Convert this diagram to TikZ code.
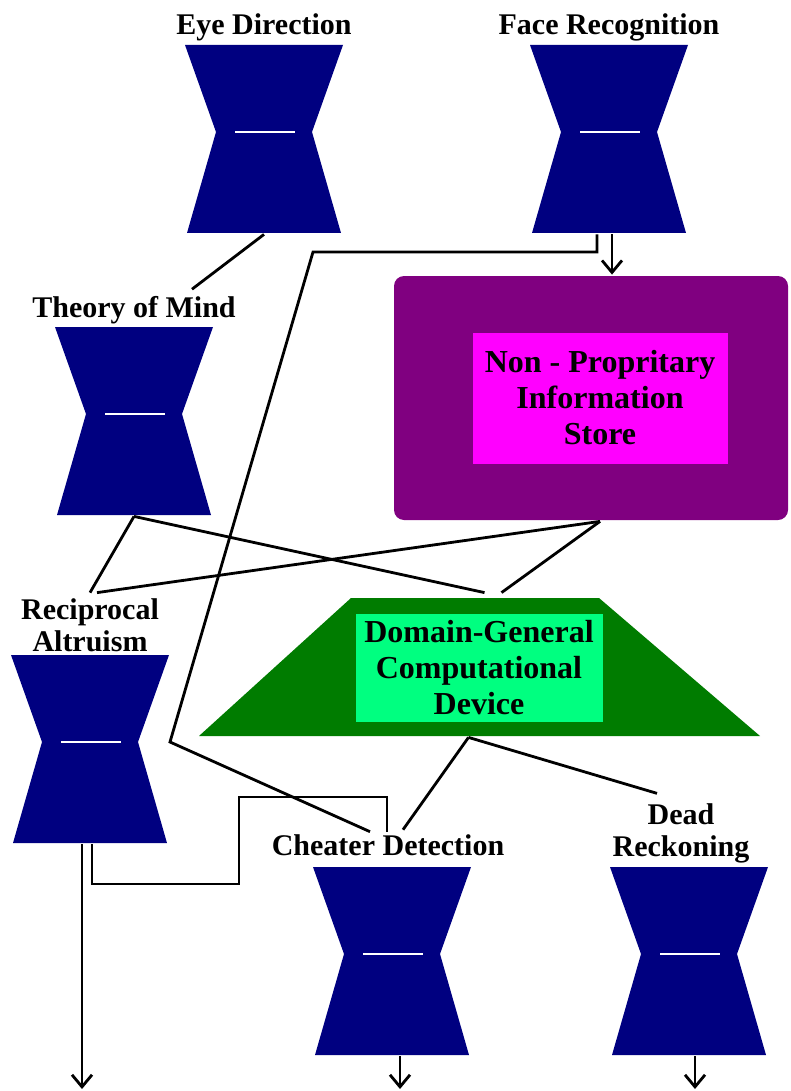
\documentclass[tikz,border=0pt]{standalone}
\usepackage{fontspec}
\setmainfont{Liberation Serif}
\usetikzlibrary{arrows.meta,positioning}

\definecolor{modblue}{RGB}{0,0,128}
\definecolor{storepurple}{RGB}{128,0,128}
\definecolor{storepink}{RGB}{255,0,255}
\definecolor{devgreen}{RGB}{0,124,0}
\definecolor{devlight}{RGB}{0,255,128}

\newcommand\bbx{path picture bounding box}

\begin{document}
\begin{tikzpicture}
  [x=1pt,y=-1pt,line width=2.8pt,>={Straight Barb[length=12pt,width=20pt]},
  module/.style={minimum width=158,minimum height=188,inner sep=0pt,
    path picture={
      \fill[modblue] (\bbx.north west) -- (\bbx.north east)
        -- ([shift={(-31,87)}]\bbx.north east) -- ([xshift=-2pt]\bbx.south east)
        -- ([xshift=2pt]\bbx.south west) -- ([shift={(31,87)}]\bbx.north west) -- cycle;
      \draw[white,line width=2.5pt] ([shift={(-29,87)}]\bbx.north) -- ([shift={(31,87)}]\bbx.north);}},
  lbl/.style={font=\bfseries\fontsize{30}{32}\selectfont,inner sep=0pt,align=center},
  boxtext/.style={font=\bfseries\fontsize{32}{36}\selectfont,inner sep=0pt,align=center}]
  \useasboundingbox (0,0) rectangle (791,1091);

  % modules
  \node[module] (eye) at (264,139) {};
  \node[module] (face) at (609,139) {};
  \node[module] (tom) at (134,421) {};
  \node[module] (recip) at (90,749) {};
  \node[module] (cheat) at (392,961) {};
  \node[module] (dead) at (689,961) {};

  \node[lbl,above=1pt of eye] (eyelbl) {Eye Direction};
  \node[lbl,above=1pt of face] (facelbl) {Face Recognition};
  \node[lbl,above=0pt of tom] (tomlbl) {Theory of Mind};
  \node[lbl,above=0pt of recip] (reciplbl) {Reciprocal\\Altruism};
  \node[lbl,above=8pt of cheat,xshift=-4pt] (cheatlbl) {Cheater Detection};
  \node[lbl,above=1pt of dead,xshift=-8pt] (deadlbl) {Dead\\Reckoning};

  % store and device
  \node[fill=storepurple,rounded corners=10pt,minimum width=394,minimum height=244] (store) at (591,398) {};
  \node[boxtext,fill=storepink,minimum width=255,minimum height=131] (storetext) at (600,398)
    {Non - Propritary\\Information\\Store};
  \node[minimum width=561,minimum height=138,inner sep=0pt,
    path picture={\fill[devgreen] ([xshift=152pt]\bbx.north west) -- ([xshift=-161pt]\bbx.north east)
      -- (\bbx.south east) -- (\bbx.south west) -- cycle;}] (device) at (479.5,667) {};
  \node[boxtext,fill=devlight,minimum width=247,minimum height=108] (devtext) at (479,668)
    {Domain-General\\Computational\\Device};

  \coordinate (bendA) at (313,252);
  \coordinate (bendB) at (170,742);
  \coordinate (loopA) at (239,884);
  \coordinate (loopB) at (387,797);
  \coordinate (recipout) at (82,1089);
  \coordinate (cheatout) at (400,1089);
  \coordinate (deadout) at (695,1089);

  % connectors
  \draw (eye.south) -- ([shift={(58,-6)}]tomlbl.north);
  \draw ([xshift=-12pt]face.south) |- (bendA) -- (bendB) -- ([shift={(-18,-2)}]cheatlbl.north);
  \draw[->] ([xshift=3pt]face.south) -- ([xshift=3pt]face.south |- store.north);
  \draw (tom.south) -- ([shift={(0,-5)}]reciplbl.north);
  \draw (tom.south) -- ([shift={(5,-4)}]device.north);
  \draw ([xshift=9pt]store.south) -- ([shift={(7,-5)}]reciplbl.north);
  \draw ([xshift=9pt]store.south) -- ([shift={(22,-4)}]device.north);
  \draw ([xshift=-11pt]device.south) -- ([shift={(15,-4)}]cheatlbl.north);
  \draw ([xshift=-11pt]device.south) -- ([shift={(-24,-9)}]deadlbl.north);
  \draw[->] ([xshift=-8pt]recip.south) -- (recipout);
  \draw ([xshift=2pt]recip.south) |- (loopA) |- (loopB) -- ([shift={(-1,-2)}]cheatlbl.north);
  \draw[->] ([xshift=8pt]cheat.south) -- (cheatout);
  \draw[->] ([xshift=6pt]dead.south) -- (deadout);
\end{tikzpicture}
\end{document}
